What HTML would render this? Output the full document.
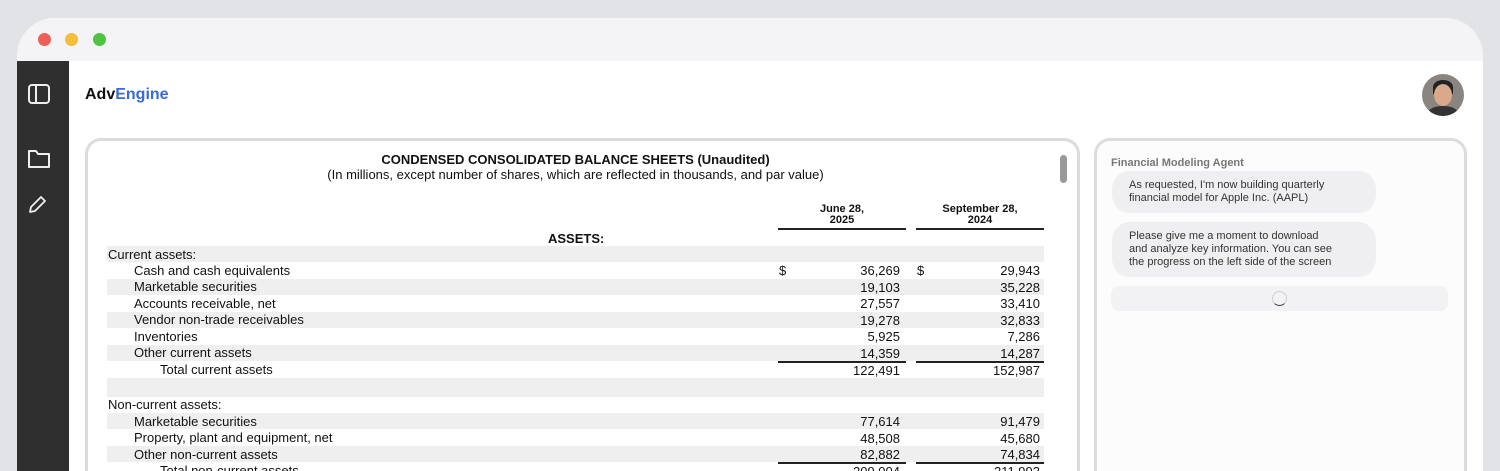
<!DOCTYPE html>
<html style="width:1500px;height:471px;overflow:hidden"><head><style>
*{margin:0;padding:0;box-sizing:border-box}
body{width:1500px;height:471px;overflow:hidden;background:#e2e3e6;font-family:"Liberation Sans",Arial,sans-serif;position:relative}
.a{position:absolute}
.win{left:17px;top:18px;width:1466px;height:453px;border-radius:38px 38px 0 0;background:#fff;overflow:hidden}
.tb{left:0;top:0;width:1466px;height:43px;background:#f4f4f6}
.dot{width:13px;height:13px;border-radius:50%;top:15px}
.side{left:0;top:43px;width:52px;height:410px;background:#2f2f2f}
.doc{left:85px;top:138px;width:995px;height:333px;border:3px solid #dcdcdc;border-bottom:none;border-radius:16px 16px 0 0;background:#fff}
.chat{left:1094px;top:138px;width:373px;height:333px;border:3px solid #dcdcdc;border-bottom:none;border-radius:16px 16px 0 0;background:#fcfcfd}
.t{font-size:13px;color:#111;white-space:nowrap}
.r{text-align:right}
.s{background:#efefef;left:107px;width:937px;height:16px}
.ln{height:1.5px;background:#222}
.bub{background:#efeff1;border-radius:18px;font-size:11px;color:#333;line-height:13px;padding:0 12px 0 17px}
</style></head><body>
<div class="a win">
 <div class="a tb"></div>
 <div class="a dot" style="left:21px;background:#ed5f57"></div>
 <div class="a dot" style="left:48px;background:#f6bd3b"></div>
 <div class="a dot" style="left:76px;background:#4ec440"></div>
 <div class="a side">
  <div class="a" style="left:11px;top:23px;width:22px;height:20px;border:2px solid #eee;border-radius:4px"><div class="a" style="left:5px;top:0;width:2px;height:16px;background:#eee"></div></div>
  <svg class="a" style="left:10px;top:86px" width="24" height="22"><path d="M2 4 h7 l2 3 h11 v13 h-20z" fill="none" stroke="#eee" stroke-width="2" stroke-linejoin="round"/></svg>
  <svg class="a" style="left:10px;top:134px" width="20" height="20"><path d="M3 17 l1-5 10-10 4 4-10 10z" fill="none" stroke="#eee" stroke-width="1.8" stroke-linejoin="round"/></svg>
 </div>
</div>
<div class="a" style="left:85px;top:86px;font-size:16px;font-weight:bold;color:#111">Adv<span style="color:#3a6bd1">Engine</span></div>
<div class="a" style="left:1422px;top:74px;width:42px;height:42px;border-radius:50%;background:#8a8580;overflow:hidden"><div class="a" style="left:11px;top:6px;width:20px;height:14px;border-radius:50% 50% 0 0;background:#222"></div><div class="a" style="left:12px;top:10px;width:18px;height:22px;border-radius:50%;background:#d9a98a"></div><div class="a" style="left:6px;top:32px;width:30px;height:14px;border-radius:50% 50% 0 0;background:#333"></div></div>
<div class="a doc"></div>
<div class="a" style="left:1060px;top:155px;width:7px;height:28px;border-radius:4px;background:#999"></div>
<div class="a t" style="left:107px;width:937px;top:152px;text-align:center;font-weight:bold">CONDENSED CONSOLIDATED BALANCE SHEETS (Unaudited)</div>
<div class="a t" style="left:107px;width:937px;top:167px;text-align:center">(In millions, except number of shares, which are reflected in thousands, and par value)</div>
<div class="a t" style="left:778px;width:128px;top:204px;text-align:center;font-weight:bold;font-size:11px;line-height:11px">June 28,<br>2025</div>
<div class="a t" style="left:916px;width:128px;top:204px;text-align:center;font-weight:bold;font-size:11px;line-height:11px">September 28,<br>2024</div>
<div class="a ln" style="left:778px;width:128px;top:228px"></div>
<div class="a ln" style="left:916px;width:128px;top:228px"></div>
<div class="a t" style="left:548px;top:231px;font-weight:bold">ASSETS:</div>
<div class="a s" style="top:246px"></div><div class="a s" style="top:279px"></div><div class="a s" style="top:312px"></div><div class="a s" style="top:345px"></div><div class="a s" style="top:378px;height:19px"></div><div class="a s" style="top:413px"></div><div class="a s" style="top:446px"></div>
<div class="a ln" style="left:778px;width:128px;top:361px"></div><div class="a ln" style="left:916px;width:128px;top:361px"></div>
<div class="a ln" style="left:778px;width:128px;top:462px"></div><div class="a ln" style="left:916px;width:128px;top:462px"></div>
<div class="a t" style="left:108px;top:247px">Current assets:</div>
<div class="a t" style="left:134px;top:263px">Cash and cash equivalents</div>
<div class="a t" style="left:134px;top:279px">Marketable securities</div>
<div class="a t" style="left:134px;top:296px">Accounts receivable, net</div>
<div class="a t" style="left:134px;top:312px">Vendor non-trade receivables</div>
<div class="a t" style="left:134px;top:329px">Inventories</div>
<div class="a t" style="left:134px;top:345px">Other current assets</div>
<div class="a t" style="left:160px;top:362px">Total current assets</div>
<div class="a t" style="left:108px;top:397px">Non-current assets:</div>
<div class="a t" style="left:134px;top:414px">Marketable securities</div>
<div class="a t" style="left:134px;top:430px">Property, plant and equipment, net</div>
<div class="a t" style="left:134px;top:447px">Other non-current assets</div>
<div class="a t" style="left:160px;top:463px">Total non-current assets</div>
<div class="a t" style="left:779px;top:263px">$</div><div class="a t" style="left:917px;top:263px">$</div>
<div class="a t r" style="left:800px;width:100px;top:263px;line-height:16.6px">36,269<br>19,103<br>27,557<br>19,278<br>5,925<br>14,359<br>122,491</div>
<div class="a t r" style="left:940px;width:100px;top:263px;line-height:16.6px">29,943<br>35,228<br>33,410<br>32,833<br>7,286<br>14,287<br>152,987</div>
<div class="a t r" style="left:800px;width:100px;top:414px;line-height:16.6px">77,614<br>48,508<br>82,882</div>
<div class="a t r" style="left:940px;width:100px;top:414px;line-height:16.6px">91,479<br>45,680<br>74,834</div>
<div class="a t r" style="left:800px;width:100px;top:464px">209,004</div>
<div class="a t r" style="left:940px;width:100px;top:464px">211,993</div>
<div class="a chat"></div>
<div class="a" style="left:1111px;top:157px;font-size:11px;font-weight:bold;color:#777">Financial Modeling Agent</div>
<div class="a bub" style="left:1112px;top:171px;width:264px;height:42px;padding-top:8px">As requested, I'm now building quarterly<br>financial model for Apple Inc. (AAPL)</div>
<div class="a bub" style="left:1112px;top:222px;width:264px;height:55px;padding-top:8px">Please give me a moment to download<br>and analyze key information. You can see<br>the progress on the left side of the screen</div>
<div class="a" style="left:1111px;top:286px;width:337px;height:25px;border-radius:8px;background:#f2f2f4"></div>
<div class="a" style="left:1272px;top:291px;width:15px;height:15px;border-radius:50%;border:1.5px solid #ccd;border-bottom-color:#333"></div>
</body></html>
